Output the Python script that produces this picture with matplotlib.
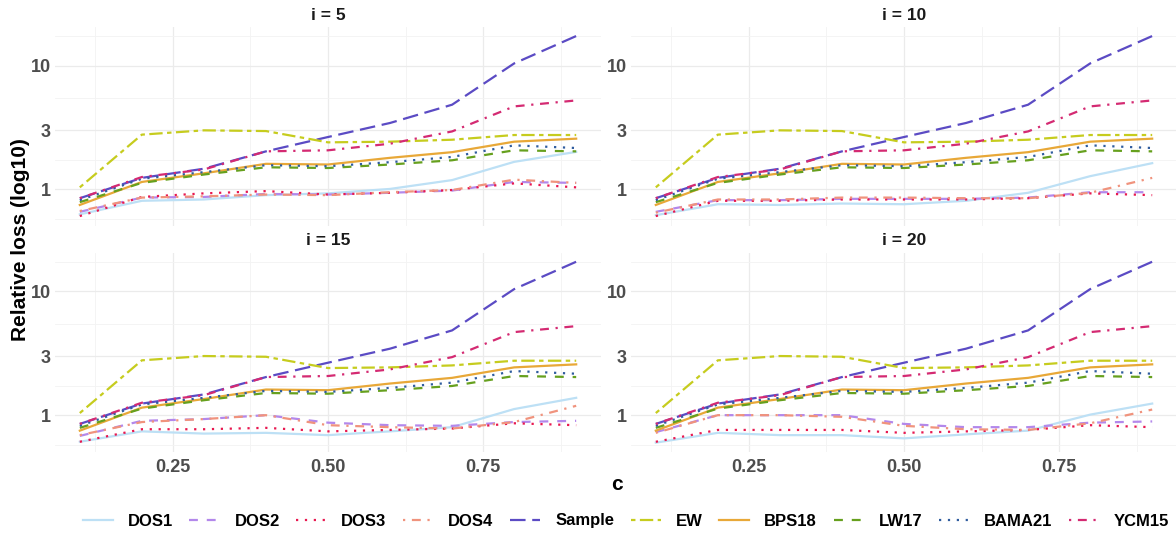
import numpy as np
import matplotlib.pyplot as plt
from matplotlib.lines import Line2D

plt.rcParams['font.family'] = ['Liberation Sans', 'DejaVu Sans']
plt.rcParams['font.weight'] = 'bold'

c = [0.1, 0.2, 0.3, 0.4, 0.5, 0.6, 0.7, 0.8, 0.9]
panels = ["i = 5", "i = 10", "i = 15", "i = 20"]

# same in every panel
sample = [0.85, 1.24, 1.47, 2.03, 2.65, 3.44, 4.83, 10.4, 17.3]
ew = [1.04, 2.77, 3.0, 2.96, 2.40, 2.43, 2.52, 2.75, 2.75]
bps18 = [0.75, 1.15, 1.35, 1.61, 1.59, 1.80, 2.0, 2.43, 2.57]
lw17 = [0.79, 1.13, 1.32, 1.51, 1.49, 1.59, 1.72, 2.07, 2.03]
bama21 = [0.82, 1.22, 1.38, 1.57, 1.54, 1.66, 1.83, 2.27, 2.16]
ycm15 = [0.85, 1.26, 1.45, 2.03, 2.07, 2.34, 2.94, 4.68, 5.23]

# DOS variants per panel (i = 5, 10, 15, 20)
dos1 = [[0.63, 0.81, 0.83, 0.90, 0.93, 1.01, 1.19, 1.67, 2.01],
        [0.62, 0.76, 0.75, 0.77, 0.76, 0.81, 0.94, 1.28, 1.63],
        [0.61, 0.74, 0.71, 0.72, 0.69, 0.74, 0.80, 1.12, 1.38],
        [0.60, 0.72, 0.69, 0.69, 0.65, 0.70, 0.75, 1.01, 1.24]]
dos2 = [[0.66, 0.86, 0.87, 0.92, 0.91, 0.94, 0.98, 1.15, 1.13],
        [0.66, 0.82, 0.82, 0.84, 0.84, 0.84, 0.86, 0.95, 0.95],
        [0.68, 0.90, 0.93, 1.0, 0.87, 0.83, 0.82, 0.88, 0.90],
        [0.73, 1.0, 1.0, 1.0, 0.85, 0.80, 0.80, 0.87, 0.89]]
dos3 = [[0.61, 0.87, 0.93, 0.97, 0.91, 0.94, 0.99, 1.12, 1.04],
        [0.61, 0.81, 0.81, 0.83, 0.83, 0.83, 0.85, 0.93, 0.90],
        [0.61, 0.77, 0.77, 0.79, 0.74, 0.76, 0.78, 0.86, 0.83],
        [0.61, 0.76, 0.76, 0.76, 0.72, 0.74, 0.76, 0.83, 0.80]]
dos4 = [[0.67, 0.86, 0.88, 0.91, 0.90, 0.95, 0.99, 1.20, 1.13],
        [0.65, 0.83, 0.83, 0.86, 0.86, 0.85, 0.85, 0.94, 1.24],
        [0.69, 0.88, 0.93, 1.0, 0.83, 0.80, 0.78, 0.88, 1.19],
        [0.72, 1.0, 1.0, 0.97, 0.82, 0.77, 0.76, 0.86, 1.11]]

names = ["DOS1", "DOS2", "DOS3", "DOS4", "Sample", "EW", "BPS18", "LW17", "BAMA21", "YCM15"]
colors = ["#BDE0F5", "#B388EB", "#E8174F", "#F0937D", "#5B4BC4",
          "#C6CC1E", "#E8A838", "#66A01E", "#2F5C9E", "#D42A72"]
# ggplot linetypes 1..6 cycling
dashes = [None, (4, 4), (1, 3), (1, 3, 4, 3), (7, 3),
          (2, 2, 6, 2), None, (4, 4), (1, 3), (1, 3, 4, 3)]

W, H = 1176, 542
fig = plt.figure(figsize=(W / 100, H / 100), dpi=100)

# panel boxes in pixels: left, top, width, height
pw, ph = 546, 199
boxes = [(55, 27), (631, 27), (55, 252.7), (631, 252.7)]

allvals = np.concatenate([np.ravel(dos1), np.ravel(dos2), np.ravel(dos3), np.ravel(dos4),
                          sample, ew, bps18, lw17, bama21, ycm15])
lo, hi = np.log10(allvals.min()), np.log10(allvals.max())
pad = 0.05 * (hi - lo)
ylim = (10 ** (lo - pad), 10 ** (hi + pad))
xpad = 0.05 * (max(c) - min(c))
xlim = (min(c) - xpad, max(c) + xpad)

ymajor = [1, 3, 10]
yminor = [10 ** v for v in [-0.2386, 0.2386, 0.7386, 1.2386]]
xmajor = [0.25, 0.5, 0.75]
xminor = [0.125, 0.375, 0.625, 0.875]

for k, (px, py) in enumerate(boxes):
    ax = fig.add_axes([px / W, 1 - (py + ph) / H, pw / W, ph / H])
    ax.set_yscale('log')
    series = [dos1[k], dos2[k], dos3[k], dos4[k], sample, ew, bps18, lw17, bama21, ycm15]
    for s, name, col, d in zip(series, names, colors, dashes):
        ln, = ax.plot(c, s, color=col, lw=1.6, label=name)
        if d is not None:
            ln.set_dashes(d)
    ax.set_xlim(xlim)
    ax.set_ylim(ylim)
    for sp in ax.spines.values():
        sp.set_visible(False)
    ax.set_yticks(ymajor)
    ax.set_yticklabels(["1", "3", "10"])
    ax.set_yticks(yminor, minor=True)
    ax.set_xticks(xmajor)
    ax.set_xticks(xminor, minor=True)
    ax.yaxis.set_minor_formatter(plt.NullFormatter())
    ax.grid(True, which='major', color='#EBEBEB', lw=0.9)
    ax.grid(True, which='minor', color='#F3F3F3', lw=0.6)
    ax.set_axisbelow(True)
    ax.tick_params(which='both', length=0)
    ax.tick_params(axis='y', labelsize=13, labelcolor='#4D4D4D', pad=3)
    ax.tick_params(axis='x', labelsize=13, labelcolor='#4D4D4D', pad=5)
    if k < 2:
        ax.set_xticklabels([])
    else:
        ax.set_xticklabels(["0.25", "0.50", "0.75"])
    ax.annotate(panels[k], xy=(0.5, 1), xycoords='axes fraction', xytext=(0, 8.5),
                textcoords='offset points', ha='center', va='center',
                fontsize=12.5, fontweight='bold', color='#1A1A1A')

fig.text(20 / W, 1 - 240 / H, "Relative loss (log10)", rotation=90, ha='center', va='center',
         fontsize=15, fontweight='bold')
fig.text(617 / W, 1 - 484 / H, "c", ha='center', va='center', fontsize=15, fontweight='bold')

handles = []
for name, col, d in zip(names, colors, dashes):
    h = Line2D([], [], color=col, lw=1.6)
    if d is not None:
        h.set_dashes(d)
    handles.append(h)
fig.legend(handles, names, loc='center', bbox_to_anchor=(626 / W, 1 - 521 / H), ncol=10,
           frameon=False, handlelength=1.8, handletextpad=0.9, columnspacing=1.0,
           prop={'size': 12, 'weight': 'bold'})

fig.savefig("out.png", dpi=100, facecolor='white')
